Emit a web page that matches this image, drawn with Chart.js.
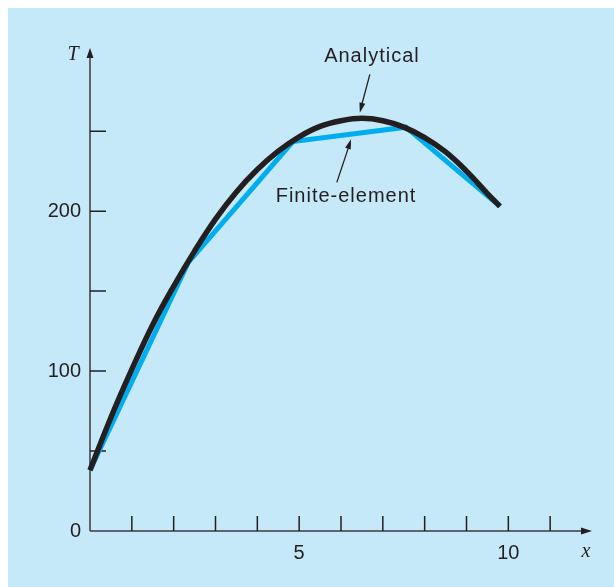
<!DOCTYPE html>
<html>
<head>
<meta charset="utf-8">
<script src="https://cdn.jsdelivr.net/npm/chart.js@4.4.1/dist/chart.umd.min.js"></script>
<style>
  body { margin: 0; background: #fff; }
  canvas { display: block; }
</style>
</head>
<body>
<canvas id="myChart" width="614" height="587"></canvas>
<script>
const ctx = document.querySelector('#myChart').getContext('2d');

// analytical curve
const analyticalX = [0, 0.5, 1, 1.5, 2, 2.5, 3, 3.5, 4, 4.5, 5, 5.5, 6, 6.5, 7, 7.5, 8, 8.5, 9, 9.5, 9.8];
const analyticalT = [38, 71, 101, 129, 153, 175, 195, 212, 226, 237.5, 246.5, 253, 256.5, 258, 256.5, 252.5, 246, 237, 225, 211, 203];

// finite-element nodes
const feX = [0, 2.35, 4.85, 7.55, 9.8];
const feT = [38, 168, 243.5, 252.5, 203];

// axis tick marks and labelled values
const xTickMarks = [1, 2, 3, 4, 5, 6, 7, 8, 9, 10, 11];
const yTickMarks = [50, 100, 150, 200, 250];
const xLabels = [5, 10];
const yLabels = [0, 100, 200];

const ink = '#231f20';
const font = '"Liberation Sans", Arial, sans-serif';

function pts(xs, ys) {
    return xs.map((x, i) => ({ x: x, y: ys[i] }));
}

function arrowHead(c, x1, y1, x2, y2, len, half) {
    const a = Math.atan2(y2 - y1, x2 - x1);
    c.beginPath();
    c.moveTo(x2, y2);
    c.lineTo(x2 - len * Math.cos(a) + half * Math.sin(a), y2 - len * Math.sin(a) - half * Math.cos(a));
    c.lineTo(x2 - len * Math.cos(a) - half * Math.sin(a), y2 - len * Math.sin(a) + half * Math.cos(a));
    c.closePath();
    c.fill();
}

//panel, axes and notes
const decor = {
    id: 'decor',
    beforeDraw(chart) {
        const c = chart.ctx;
        c.save();
        c.fillStyle = '#c6e9f9';
        c.fillRect(8, 8, chart.width - 8, chart.height - 8);
        c.restore();
    },
    beforeDatasetsDraw(chart) {
        const c = chart.ctx;
        const xs = chart.scales.x, ys = chart.scales.y;
        const x0 = xs.getPixelForValue(0), y0 = ys.getPixelForValue(0);
        const a = chart.chartArea;
        c.save();
        c.strokeStyle = '#3b3b3b';
        c.fillStyle = ink;
        c.lineWidth = 1.5;
        c.beginPath();
        c.moveTo(x0, y0); c.lineTo(a.right - 8, y0);
        c.moveTo(x0, y0); c.lineTo(x0, a.top + 8);
        c.stroke();
        arrowHead(c, x0, y0, a.right, y0, 11, 3.5);
        arrowHead(c, x0, y0, x0, a.top, 10, 3.5);
        c.strokeStyle = ink;
        c.beginPath();
        xTickMarks.forEach(v => {
            const p = xs.getPixelForValue(v);
            c.moveTo(p, y0); c.lineTo(p, y0 - 15);
        });
        yTickMarks.forEach(v => {
            const p = ys.getPixelForValue(v);
            c.moveTo(x0, p); c.lineTo(x0 + 16, p);
        });
        c.stroke();
        c.font = 'italic 20px "Liberation Serif", "Times New Roman", serif';
        c.textAlign = 'center';
        c.textBaseline = 'middle';
        c.fillText('T', x0 - 17, a.top + 7);
        c.fillText('x', a.right - 6, y0 + 21);
        c.restore();
    },
    afterDraw(chart) {
        const c = chart.ctx;
        const xs = chart.scales.x, ys = chart.scales.y;
        const X = v => xs.getPixelForValue(v), Y = v => ys.getPixelForValue(v);
        c.save();
        c.fillStyle = ink;
        c.strokeStyle = ink;
        c.lineWidth = 1.3;
        c.font = '20px ' + font;
        c.letterSpacing = '1px';
        c.textAlign = 'center';
        c.textBaseline = 'middle';
        c.fillText('Analytical', X(6.74), Y(297));
        c.fillText('Finite-element', X(6.12), Y(209));
        c.beginPath();
        c.moveTo(X(6.69), Y(285.5)); c.lineTo(X(6.47), Y(264));
        c.moveTo(X(5.9), Y(218)); c.lineTo(X(6.22), Y(243));
        c.stroke();
        arrowHead(c, X(6.69), Y(285.5), X(6.45), Y(261.5), 10, 3);
        arrowHead(c, X(5.9), Y(218), X(6.24), Y(245), 10, 3);
        c.restore();
    }
};

const data = {
    datasets: [{
        label: 'Analytical',
        data: pts(analyticalX, analyticalT),
        borderColor: ink,
        borderWidth: 5.5,
        tension: 0.4,
        pointRadius: 0,
        order: 1
    }, {
        label: 'Finite-element',
        data: pts(feX, feT),
        borderColor: '#00aeef',
        borderWidth: 5,
        tension: 0,
        pointRadius: 0,
        order: 2
    }]
};

const config = {
    type: 'line',
    data: data,
    plugins: [decor],
    options: {
        responsive: false,
        animation: false,
        devicePixelRatio: 1,
        layout: { padding: { top: 48, right: 22, left: 0, bottom: 0 } },
        plugins: {
            legend: { display: false },
            tooltip: { enabled: false }
        },
        elements: { line: { borderCapStyle: 'butt', borderJoinStyle: 'miter' } },
        datasets: { line: { clip: false } },
        scales: {
            x: {
                type: 'linear',
                min: 0,
                max: 12,
                grid: { display: false, drawTicks: false },
                border: { display: false },
                afterFit: s => { s.height = 56; },
                afterBuildTicks: s => { s.ticks = xLabels.map(v => ({ value: v })); },
                ticks: {
                    autoSkip: false,
                    maxRotation: 0,
                    padding: 10,
                    color: ink,
                    font: { family: font, size: 20 },
                    callback: v => String(v)
                }
            },
            y: {
                min: 0,
                max: 302,
                grid: { display: false, drawTicks: false },
                border: { display: false },
                afterFit: s => { s.width = 90; },
                afterBuildTicks: s => { s.ticks = yLabels.map(v => ({ value: v })); },
                ticks: {
                    autoSkip: false,
                    padding: 9,
                    color: ink,
                    font: { family: font, size: 20 },
                    callback: v => String(v)
                }
            }
        }
    }
};

const myChart = new Chart(ctx, config);
</script>
</body>
</html>
